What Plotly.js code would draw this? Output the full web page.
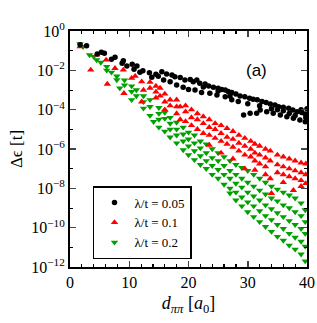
<!DOCTYPE html>
<html>
<head>
<meta charset="utf-8">
<script src="https://cdn.plot.ly/plotly-3.0.1.min.js"></script>
<style>
html,body{margin:0;padding:0;background:#fff;}
#plot{width:317px;height:323px;}
</style>
</head>
<body>
<div id="plot"></div>
<script>
// Values: d_pipi [a0] and log10(Delta epsilon / t)
const seriesNames = ["λ/t = 0.05", "λ/t = 0.1", "λ/t = 0.2"];

const d_005 = [1.7, 2.8, 4.6, 5.3, 5.8, 7.0, 7.6, 8.8, 9.0, 9.6, 10.5, 10.8, 11.3, 11.8, 12.3, 13.4, 13.8, 14.5, 14.9,
  15.5, 16.3, 17.2, 17.7, 18.6, 19.4, 20.3, 20.8, 21.4, 21.9, 22.8, 23.4, 24.2, 25.0, 25.6, 26.2, 26.7, 27.3, 28.0, 28.7,
  29.5, 30.3, 30.9, 31.6, 32.4, 33.1, 33.8, 34.6, 35.2, 36.0, 36.9, 37.6, 38.3, 39.1, 39.7,
  15.8, 16.9, 18.0, 19.1, 20.0, 21.1, 22.2, 23.6, 24.8, 26.2, 27.3, 28.4,
  29.3, 30.4, 31.5, 32.1, 33.2, 34.3, 35.5, 36.6, 37.7, 38.8, 39.7,
  22.5, 25.0, 27.0, 30.0, 32.0, 34.0, 35.0, 36.0, 37.0, 38.0, 39.0, 39.8, 40.0];
const logE_005 = [-0.70, -0.75, -1.17, -1.08, -1.13, -1.44, -1.34, -1.64, -1.51, -1.78, -1.69, -1.95, -1.78, -2.10, -2.02, -2.12, -2.35, -2.20, -2.30,
  -2.07, -2.19, -2.24, -2.32, -2.36, -2.49, -2.46, -2.58, -2.49, -2.66, -2.69, -2.80, -2.86, -2.91, -2.97, -3.00, -3.08, -3.13, -3.20, -3.30,
  -3.34, -3.42, -3.47, -3.50, -3.59, -3.64, -3.71, -3.76, -3.85, -3.88, -3.93, -4.02, -4.10, -4.15, -4.22,
  -2.49, -2.58, -2.75, -2.86, -2.97, -3.00, -3.13, -3.17, -3.25, -3.34, -3.50, -3.59,
  -4.27, -4.18, -4.18, -4.02, -4.10, -4.18, -4.27, -4.36, -4.44, -4.52, -4.61,
  -2.85, -3.05, -3.30, -3.70, -3.80, -3.95, -4.00, -4.05, -4.20, -4.30, -4.00, -4.40, -3.95];

const d_01 = [1.7, 3.5, 4.5, 6.1, 6.3, 7.6, 9.0, 9.1, 10.4, 11.0, 12.1, 12.1, 12.4, 13.5, 13.5,
  14.5, 14.5, 14.5, 15.2, 15.2, 16.0, 16.0, 16.0, 16.9, 16.9, 18.0, 18.0, 18.0, 18.6, 18.6,
  19.5, 19.5, 19.5, 20.5, 20.5, 20.5, 21.5, 21.5, 21.5, 22.5, 22.5, 22.5,
  23.5, 23.5, 23.5, 23.5, 24.5, 24.5, 24.5, 25.5, 25.5, 25.5, 25.5, 26.5, 26.5, 26.5,
  27.5, 27.5, 27.5, 27.5, 28.5, 28.5, 28.5, 29.5, 29.5, 29.5, 29.5, 30.5, 30.5, 30.5,
  31.2, 31.2, 31.2, 31.2, 32.0, 32.0, 32.0, 33.0, 33.0, 33.0, 33.0, 33.8, 33.8, 33.8, 34.0,
  35.0, 35.0, 35.0, 36.0, 36.0, 36.0, 36.0, 37.0, 37.0, 37.0, 37.7, 38.0, 38.0, 38.0,
  39.0, 39.0, 39.0, 39.0, 39.8, 39.8, 39.8];
const logE_01 = [-0.80, -1.98, -1.22, -1.47, -2.70, -1.90, -1.98, -3.17, -2.40, -2.30, -2.58, -3.60, -3.00, -2.90, -2.60,
  -2.80, -3.10, -3.40, -2.90, -3.30, -3.20, -3.60, -4.00, -3.50, -3.80, -3.50, -3.85, -4.20, -3.85, -4.50,
  -3.80, -4.10, -4.60, -4.00, -4.40, -4.80, -4.20, -4.50, -5.00, -4.35, -4.70, -5.20,
  -4.50, -4.90, -5.30, -5.80, -4.70, -5.00, -5.45, -4.80, -5.20, -5.60, -6.20, -4.95, -5.40, -5.75,
  -5.10, -5.50, -5.90, -6.50, -5.30, -5.70, -6.10, -5.45, -5.85, -6.30, -7.00, -5.60, -6.00, -6.40,
  -5.75, -6.20, -6.60, -7.07, -5.85, -6.30, -6.75, -6.00, -6.45, -6.90, -7.30, -6.10, -6.60, -7.50, -8.25,
  -6.30, -6.80, -7.20, -6.40, -6.90, -7.30, -7.70, -6.50, -7.00, -7.40, -8.10, -6.60, -7.10, -7.50,
  -6.70, -7.20, -7.60, -7.90, -6.75, -7.30, -7.75];

const d_02 = [1.7, 2.2, 3.3, 4.0, 4.5, 5.2, 6.2, 6.2, 7.0, 7.9, 7.9, 8.4, 9.2, 9.2, 10.4, 10.4, 10.4, 11.2, 11.2,
  12.4, 12.4, 12.4, 13.5, 13.5, 13.5, 14.1, 15.0, 15.0, 15.0, 15.0, 16.0, 16.0, 16.0,
  16.9, 16.9, 16.9, 16.9, 18.0, 18.0, 18.0, 18.0, 19.1, 19.1, 19.1, 19.1, 20.0, 20.0, 20.0, 20.0,
  21.0, 21.0, 21.0, 21.0, 22.0, 22.0, 22.0, 22.0, 23.0, 23.0, 23.0, 23.0, 24.0, 24.0, 24.0, 24.0,
  25.0, 25.0, 25.0, 25.0, 26.0, 26.0, 26.0, 26.0, 27.0, 27.0, 27.0, 27.0, 27.0,
  28.0, 28.0, 28.0, 28.0, 28.0, 29.0, 29.0, 29.0, 29.0, 29.0, 30.0, 30.0, 30.0, 30.0, 30.0,
  31.0, 31.0, 31.0, 31.0, 31.0, 32.0, 32.0, 32.0, 32.0, 32.0, 33.0, 33.0, 33.0, 33.0, 33.0,
  34.0, 34.0, 34.0, 34.0, 34.0, 35.0, 35.0, 35.0, 35.0, 35.0, 36.0, 36.0, 36.0, 36.0, 36.0,
  37.0, 37.0, 37.0, 37.0, 37.0, 38.0, 38.0, 38.0, 38.0, 38.0, 39.0, 39.0, 39.0, 39.0, 39.0,
  39.7, 39.7, 39.7, 39.7, 39.7];
const logE_02 = [-0.66, -0.80, -1.22, -1.30, -1.47, -1.60, -1.81, -2.00, -2.10, -2.30, -2.49, -2.90, -2.50, -2.75, -2.80, -3.08, -3.50, -3.00, -3.30,
  -3.30, -3.60, -3.93, -3.50, -3.85, -4.30, -4.61, -3.90, -4.20, -4.50, -4.90, -4.15, -4.45, -5.10,
  -4.40, -4.70, -5.00, -5.40, -4.65, -5.00, -5.30, -5.70, -4.90, -5.25, -5.60, -6.05, -5.15, -5.50, -5.85, -6.30,
  -5.30, -5.70, -6.10, -6.55, -5.60, -5.95, -6.35, -6.80, -5.75, -6.20, -6.60, -7.00, -6.00, -6.45, -6.85, -7.30,
  -6.20, -6.60, -7.05, -7.50, -6.40, -6.85, -7.30, -7.80, -6.60, -7.10, -7.50, -8.00, -8.25,
  -6.80, -7.30, -7.75, -8.20, -8.60, -6.95, -7.50, -7.95, -8.45, -8.90, -7.10, -7.70, -8.20, -8.70, -9.20,
  -7.30, -7.90, -8.40, -8.90, -9.45, -7.50, -8.10, -8.60, -9.15, -9.70, -7.70, -8.30, -8.85, -9.40, -9.95,
  -7.90, -8.50, -9.05, -9.60, -10.20, -8.05, -8.65, -9.25, -9.85, -10.45, -8.20, -8.85, -9.45, -10.05, -10.65,
  -8.35, -9.00, -9.65, -10.30, -10.90, -8.50, -9.20, -9.85, -10.50, -11.10, -8.75, -9.40, -10.05, -10.70, -11.35,
  -9.10, -9.70, -10.30, -10.95, -11.70];

const toVal = arr => arr.map(e => Math.pow(10, e));

const serif = "Liberation Serif";

const traces = [
  {x: d_02, y: toVal(logE_02), name: seriesNames[2], type: "scatter", mode: "markers",
   marker: {symbol: "triangle-down", size: 6.5, color: "#00a000"}},
  {x: d_01, y: toVal(logE_01), name: seriesNames[1], type: "scatter", mode: "markers",
   marker: {symbol: "triangle-up", size: 6.5, color: "#ff0000"}},
  {x: d_005, y: toVal(logE_005), name: seriesNames[0], type: "scatter", mode: "markers",
   marker: {symbol: "circle", size: 5.5, color: "#000000"}}
];

const yTickVals = [1, 1e-2, 1e-4, 1e-6, 1e-8, 1e-10, 1e-12];
const yTickText = ["10<sup>0</sup>", "10<sup>−2</sup>", "10<sup>−4</sup>", "10<sup>−6</sup>", "10<sup>−8</sup>", "10<sup>−10</sup>", "10<sup>−12</sup>"];
const xTickVals = [0, 10, 20, 30, 40];

const layout = {
  width: 317, height: 323,
  margin: {l: 70, r: 10, t: 31, b: 56},
  paper_bgcolor: "#fff", plot_bgcolor: "#fff",
  font: {family: serif, color: "#000"},
  showlegend: true,
  legend: {x: 0.097, y: 0.343, xanchor: "left", yanchor: "top", bgcolor: "#fff",
    bordercolor: "#000", borderwidth: 1.5, traceorder: "reversed",
    font: {family: serif, size: 13, color: "#000"}, tracegroupgap: 0, itemwidth: 30},
  xaxis: {range: [0, 40], tickvals: xTickVals, ticks: "inside", ticklen: 6, tickwidth: 1.5,
    showline: true, linewidth: 2, linecolor: "#000", mirror: "ticks", showgrid: false, zeroline: false,
    minor: {dtick: 2, ticks: "inside", ticklen: 3, tickwidth: 1.2, tickcolor: "#000", showgrid: false},
    tickfont: {family: serif, size: 16, color: "#000"},
    title: {text: "<i>d</i><sub><i>ππ</i></sub> [<i>a</i><sub>0</sub>]", font: {family: serif, size: 18, color: "#000"}, standoff: 6}},
  yaxis: {type: "log", range: [-12, 0], tickvals: yTickVals, ticktext: yTickText, ticks: "inside", ticklen: 6, tickwidth: 1.5,
    showline: true, linewidth: 2, linecolor: "#000", mirror: "ticks", showgrid: false, zeroline: false,
    minor: {tickvals: [1e-1, 1e-3, 1e-5, 1e-7, 1e-9, 1e-11], ticks: "inside", ticklen: 3, tickwidth: 1, tickcolor: "#000", showgrid: false},
    tickfont: {family: serif, size: 16, color: "#000"},
    title: {text: "Δϵ [t]", font: {family: serif, size: 17, color: "#000"}, standoff: 4}},
  annotations: [{x: 0.84, y: 0.88, xref: "paper", yref: "paper", text: "(a)", showarrow: false,
    font: {family: "Liberation Sans", size: 17, color: "#000"}}]
};

Plotly.newPlot("plot", traces, layout, {displayModeBar: false, staticPlot: true});
</script>
</body>
</html>
